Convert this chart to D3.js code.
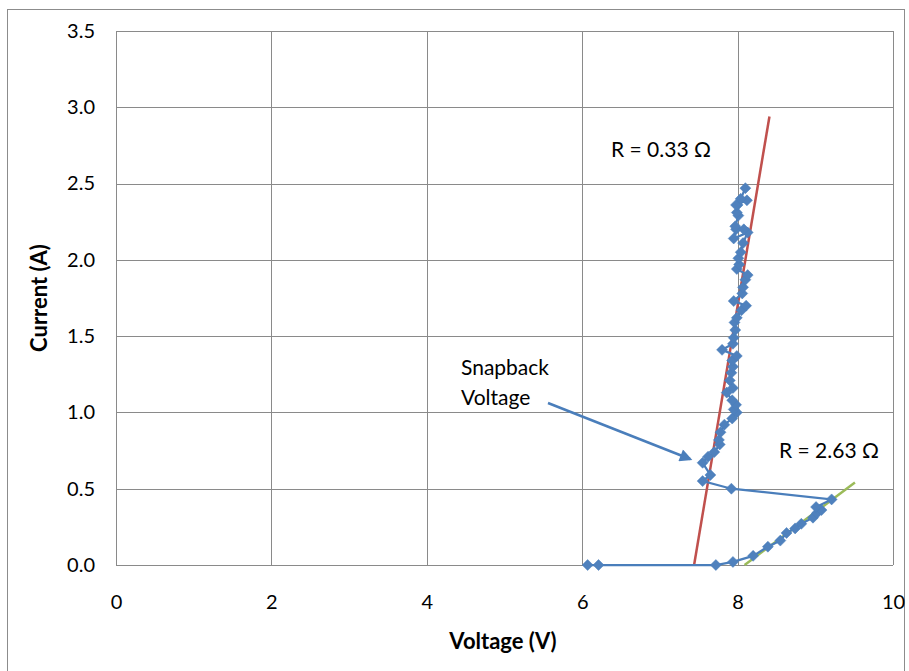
<!DOCTYPE html>
<html><head><meta charset="utf-8">
<script src="https://cdn.jsdelivr.net/npm/d3@7"></script>
<style>body{margin:0;background:#fff;} text{font-family:Lato,"Open Sans",sans-serif;}</style>
</head><body>
<svg id="c" width="909" height="671"></svg>
<script>
const voltage = [6.07,6.21,7.72,7.94,8.20,8.39,8.55,8.63,8.74,8.82,8.97,9.02,9.08,9.01,9.21,
 7.92,7.55,7.65,7.55,7.62,7.70,7.77,7.76,7.78,7.83,7.93,7.99,7.95,7.98,7.93,7.86,7.94,7.90,7.92,7.94,7.93,7.99,7.80,7.94,7.95,7.97,7.96,7.99,8.05,8.11,7.95,8.06,8.07,8.10,8.13,7.99,8.02,8.01,8.04,8.07,8.13,7.95,7.98,8.08,7.97,8.01,7.99,8.00,7.98,8.12,8.04,8.10];
const current = [0.00,0.00,0.00,0.02,0.06,0.12,0.16,0.21,0.24,0.27,0.31,0.34,0.36,0.38,0.43,
 0.50,0.55,0.59,0.67,0.71,0.74,0.79,0.82,0.87,0.92,0.96,1.00,1.02,1.05,1.08,1.13,1.16,1.21,1.26,1.30,1.34,1.37,1.41,1.45,1.49,1.54,1.59,1.62,1.67,1.70,1.73,1.78,1.82,1.87,1.90,1.94,1.97,2.01,2.05,2.11,2.18,2.14,2.20,2.20,2.22,2.29,2.31,2.36,2.36,2.39,2.40,2.47];
const redFitV = [7.44, 8.41];
const redFitI = [0.00, 2.94];
const greenFitV = [8.09, 9.51];
const greenFitI = [0.00, 0.54];
const xTicks = [0,2,4,6,8,10];
const yTicks = [0,0.5,1,1.5,2,2.5,3,3.5];

const svg = d3.select("#c");
svg.append("rect").attr("x",7.5).attr("y",9.5).attr("width",897).attr("height",700)
  .attr("fill","none").attr("stroke","#8c8c8c").attr("stroke-width",1);

const L=116, R=893, T=31, B=565;
const x = d3.scaleLinear().domain([0,10]).range([L,R]);
const y = d3.scaleLinear().domain([0,3.5]).range([B,T]);

// grid
svg.append("g").selectAll("line.v").data(xTicks).join("line")
  .attr("x1",d=>Math.round(x(d))+0.5).attr("x2",d=>Math.round(x(d))+0.5)
  .attr("y1",T).attr("y2",B).attr("stroke","#8a8a8a").attr("stroke-width",1);
svg.append("g").selectAll("line.h").data(yTicks).join("line")
  .attr("y1",d=>Math.round(y(d))+0.5).attr("y2",d=>Math.round(y(d))+0.5)
  .attr("x1",L).attr("x2",R).attr("stroke","#8a8a8a").attr("stroke-width",1);

// axes labels
const xa = svg.append("g").attr("transform",`translate(0,${B})`)
  .call(d3.axisBottom(x).tickValues(xTicks).tickSize(0).tickPadding(30).tickFormat(d3.format("d")));
xa.select(".domain").remove();
xa.selectAll("text").attr("font-size",20).attr("fill","#000").style("font-family","Lato,'Open Sans',sans-serif");
const ya = svg.append("g").attr("transform",`translate(${L},0)`)
  .call(d3.axisLeft(y).tickValues(yTicks).tickSize(0).tickPadding(21).tickFormat(d3.format(".1f")));
ya.select(".domain").remove();
ya.selectAll("text").attr("font-size",20).attr("fill","#000").style("font-family","Lato,'Open Sans',sans-serif");

svg.append("text").attr("x",503).attr("y",649).attr("text-anchor","middle")
  .attr("font-size",22).attr("font-weight","bold").text("Voltage (V)");
svg.append("text").attr("transform","translate(47,298) rotate(-90)").attr("text-anchor","middle")
  .attr("font-size",22).attr("font-weight","bold").text("Current (A)");

// fit lines
svg.append("line").attr("x1",x(redFitV[0])).attr("y1",y(redFitI[0])).attr("x2",x(redFitV[1])).attr("y2",y(redFitI[1]))
  .attr("stroke","#c0504d").attr("stroke-width",2.5);
svg.append("line").attr("x1",x(greenFitV[0])).attr("y1",y(greenFitI[0])).attr("x2",x(greenFitV[1])).attr("y2",y(greenFitI[1]))
  .attr("stroke","#9bbb59").attr("stroke-width",2.5);

// data series
const pts = voltage.map((v,i)=>[v,current[i]]);
svg.append("path").datum(pts).attr("fill","none").attr("stroke","#4a7ebb").attr("stroke-width",2.25)
  .attr("d",d3.line().x(d=>x(d[0])).y(d=>y(d[1])));
svg.append("g").selectAll("path").data(pts).join("path")
  .attr("transform",d=>`translate(${x(d[0])},${y(d[1])})`)
  .attr("d","M0,-5.5L5.5,0L0,5.5L-5.5,0Z").attr("fill","#4f81bd").attr("stroke","#4a7ebb").attr("stroke-width",0.5);

// annotations
svg.append("text").attr("x",661).attr("y",157).attr("text-anchor","middle").attr("font-size",21).text("R = 0.33 \u03A9");
svg.append("text").attr("x",829).attr("y",458).attr("text-anchor","middle").attr("font-size",21).text("R = 2.63 \u03A9");
svg.append("text").attr("x",461).attr("y",375).attr("font-size",21).text("Snapback");
svg.append("text").attr("x",461).attr("y",405).attr("font-size",21).text("Voltage");

svg.append("defs").append("marker").attr("id","ah").attr("viewBox","0 0 10 10").attr("refX",8).attr("refY",5)
  .attr("markerWidth",5.5).attr("markerHeight",5).attr("orient","auto").attr("markerUnits","strokeWidth")
  .append("path").attr("d","M0,0L10,5L0,10Z").attr("fill","#4a7ebb");
svg.append("line").attr("x1",548).attr("y1",403).attr("x2",690).attr("y2",459)
  .attr("stroke","#4a7ebb").attr("stroke-width",2.5).attr("marker-end","url(#ah)");
</script>
</body></html>
